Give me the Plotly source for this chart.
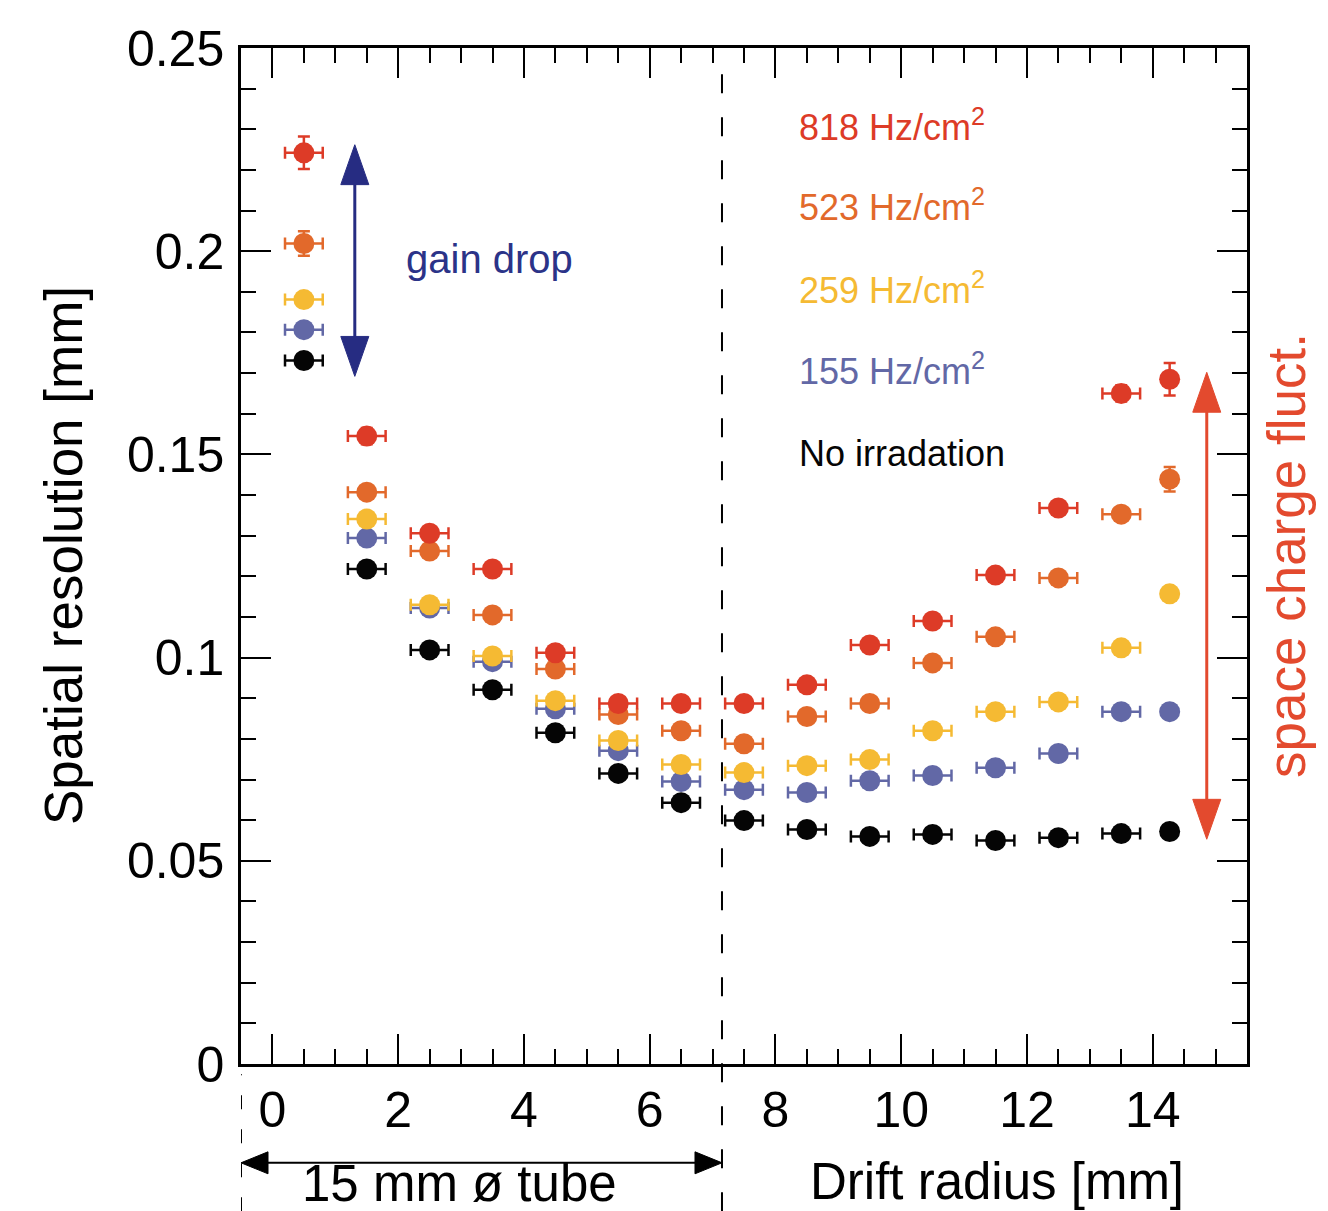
import plotly.graph_objects as go

# ---------------- data ----------------
radius = [0.5, 1.5, 2.5, 3.5, 4.5, 5.5, 6.5, 7.5, 8.5, 9.5, 10.5, 11.5, 12.5, 13.5, 14.27]
radius_err = [0.3] * 14 + [0.08]

res_818 = [0.2242, 0.1545, 0.1306, 0.1218, 0.1012, 0.0887, 0.0887, 0.0887, 0.0933, 0.1031, 0.1090, 0.1203, 0.1368, 0.1650, 0.1685]
err_818 = [0.004, 0.002, 0.001, 0.001, 0.001, 0.001, 0.001, 0.001, 0.001, 0.001, 0.001, 0.001, 0.001, 0.002, 0.004]
res_523 = [0.2019, 0.1407, 0.1262, 0.1105, 0.0972, 0.0860, 0.0820, 0.0788, 0.0855, 0.0887, 0.0987, 0.1051, 0.1196, 0.1353, 0.1439]
err_523 = [0.003, 0.001, 0.001, 0.001, 0.001, 0.001, 0.001, 0.001, 0.001, 0.001, 0.001, 0.001, 0.001, 0.001, 0.003]
res_259 = [0.1881, 0.1341, 0.1130, 0.1004, 0.0894, 0.0796, 0.0737, 0.0717, 0.0734, 0.0749, 0.0820, 0.0867, 0.0891, 0.1024, 0.1157]
err_259 = [0.001] * 15
res_155 = [0.1807, 0.1294, 0.1122, 0.0990, 0.0874, 0.0771, 0.0695, 0.0675, 0.0668, 0.0697, 0.0710, 0.0729, 0.0764, 0.0867, 0.0867]
err_155 = [0.001] * 15
res_0 = [0.1731, 0.1218, 0.1019, 0.0921, 0.0815, 0.0715, 0.0643, 0.0599, 0.0577, 0.0560, 0.0565, 0.0550, 0.0557, 0.0567, 0.0572]
err_0 = [0.001] * 15

series = [
    ("No irradation", res_0, err_0, "#050505"),
    ("155 Hz/cm<sup>2</sup>", res_155, err_155, "#6268A6"),
    ("259 Hz/cm<sup>2</sup>", res_259, err_259, "#F5BA33"),
    ("523 Hz/cm<sup>2</sup>", res_523, err_523, "#E2692B"),
    ("818 Hz/cm<sup>2</sup>", res_818, err_818, "#DD3B27"),
]
label_y = {"818 Hz/cm<sup>2</sup>": 0.2310, "523 Hz/cm<sup>2</sup>": 0.2113,
           "259 Hz/cm<sup>2</sup>": 0.1910, "155 Hz/cm<sup>2</sup>": 0.1711,
           "No irradation": 0.1503}
label_x = 8.35
tube_radius = 7.15
x_range = [-0.5, 15.5]
y_range = [0, 0.25]

FONT = "Liberation Sans, Arial, Helvetica, sans-serif"

fig = go.Figure()
for name, ys, es, col in series:
    fig.add_trace(go.Scatter(
        x=radius, y=ys, mode="markers", name=name, showlegend=False,
        marker=dict(size=21, color=col),
        error_x=dict(type="data", array=radius_err, color=col, thickness=2.5, width=6),
        error_y=dict(type="data", array=es, color=col, thickness=2.5, width=6),
    ))

# page body has an 8px margin, so the figure is sized to fit the window from there
W, H = 1320, 1203
ml, mr, mt, mb = 233, 81, 38, 147
pw, ph = W - ml - mr, H - mt - mb
xu = (x_range[1] - x_range[0]) / pw     # data per px (x)
yu = (y_range[1] - y_range[0]) / ph     # data per px (y)
pyu = 1 / ph

shapes = []
annotations = []

# legend-like coloured labels
for name, ys, es, col in series:
    annotations.append(dict(x=label_x, y=label_y[name], xref="x", yref="y", text=name,
                            showarrow=False, xanchor="left", yanchor="middle",
                            font=dict(family=FONT, size=36, color=col)))

def varrow(x, y0, y1, col, hl=40, hw=28, lw=3):
    shapes.append(dict(type="line", xref="x", yref="y", x0=x, x1=x,
                       y0=y0 + hl * yu * 0.5, y1=y1 - hl * yu * 0.5,
                       line=dict(color=col, width=lw)))
    for tip, d in ((y1, 1), (y0, -1)):
        b = tip - d * hl * yu
        shapes.append(dict(type="path", xref="x", yref="y",
                           path=f"M{x},{tip} L{x - hw/2*xu},{b} L{x + hw/2*xu},{b} Z",
                           fillcolor=col, line=dict(color=col, width=1)))

# gain drop arrow
navy = "#262C82"
varrow(1.31, 0.1692, 0.2262, navy)
annotations.append(dict(x=2.1, y=0.1982, xref="x", yref="y", text="gain drop", showarrow=False,
                        xanchor="left", yanchor="middle", font=dict(family=FONT, size=40, color="#2B3388")))

# space charge arrow
sc = "#E34A2E"
varrow(14.86, 0.0553, 0.1702, sc)
annotations.append(dict(x=1.0, y=0.5, xref="paper", yref="paper", xshift=39, text="space charge fluct.",
                        showarrow=False, textangle=-90, xanchor="center", yanchor="middle",
                        font=dict(family=FONT, size=53, color=sc)))

# dashed tube boundary
shapes.append(dict(type="line", xref="x", yref="paper", x0=tube_radius, x1=tube_radius,
                   y0=-0.145, y1=0.985, line=dict(color="black", width=2, dash="19px,24px")))
shapes.append(dict(type="line", xref="x", yref="paper", x0=x_range[0], x1=x_range[0],
                   y0=-0.145, y1=-0.01, line=dict(color="black", width=2, dash="14px,20px")))

# bottom tube arrow (paper y)
ya = -(1155 - (H - mb)) / ph
hl, hw = 27, 22
shapes.append(dict(type="line", xref="x", yref="paper", x0=x_range[0] + hl * xu * 0.5,
                   x1=tube_radius - hl * xu * 0.5, y0=ya, y1=ya, line=dict(color="black", width=2)))
for tip, d in ((tube_radius, 1), (x_range[0], -1)):
    b = tip - d * hl * xu
    shapes.append(dict(type="path", xref="x", yref="paper",
                       path=f"M{tip},{ya} L{b},{ya + hw/2*pyu} L{b},{ya - hw/2*pyu} Z",
                       fillcolor="black", line=dict(color="black", width=1)))
annotations.append(dict(x=2.97, y=-(1176 - (H - mb)) / ph, xref="x", yref="paper", text="15 mm ø tube",
                        showarrow=False, xanchor="center", yanchor="middle",
                        font=dict(family=FONT, size=51, color="black")))
annotations.append(dict(x=11.53, y=-(1174 - (H - mb)) / ph, xref="x", yref="paper", text="Drift radius [mm]",
                        showarrow=False, xanchor="center", yanchor="middle",
                        font=dict(family=FONT, size=51, color="black")))
annotations.append(dict(x=0, y=0.5, xref="paper", yref="paper", xshift=-178, text="Spatial resolution [mm]",
                        showarrow=False, textangle=-90, xanchor="center", yanchor="middle",
                        font=dict(family=FONT, size=53, color="black")))

axis_common = dict(showgrid=False, zeroline=False, showline=True, linecolor="black", linewidth=2.5,
                   mirror="allticks", ticks="inside", tickcolor="black", tickwidth=2,
                   tickfont=dict(family=FONT, size=50, color="black"))

fig.update_layout(
    width=W, height=H, margin=dict(l=ml, r=mr, t=mt, b=mb),
    paper_bgcolor="white", plot_bgcolor="white",
    xaxis=dict(range=x_range, tick0=0, dtick=2, ticklen=30, ticklabelstandoff=0,
               minor=dict(dtick=0.5, tick0=0, ticklen=15, ticks="inside", tickcolor="black", tickwidth=2),
               **axis_common),
    yaxis=dict(range=y_range, tick0=0, dtick=0.05, ticklen=30, ticklabelstandoff=4,
               minor=dict(dtick=0.01, tick0=0, ticklen=15, ticks="inside", tickcolor="black", tickwidth=2),
               **axis_common),
    shapes=shapes, annotations=annotations,
)

fig.write_html("out.html")
